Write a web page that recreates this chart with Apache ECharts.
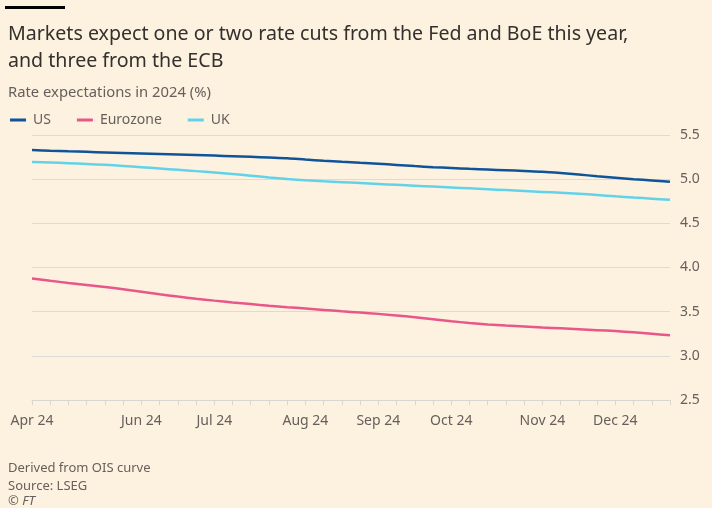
<!DOCTYPE html>
<html>
<head>
<meta charset="utf-8">
<script src="https://cdn.jsdelivr.net/npm/echarts@6/dist/echarts.min.js"></script>
<style>
  html, body { margin: 0; padding: 0; background: #fdf2df; }
  #main { width: 712px; height: 508px; }
</style>
</head>
<body>
<div id="main"></div>
<script>
// categories (weekly points), month label shown where month starts
var categories = [
  'Apr 24',
  'May 24', 'May 24', 'May 24', 'May 24', 'May 24',
  'Jun 24', 'Jun 24', 'Jun 24', 'Jun 24',
  'Jul 24', 'Jul 24', 'Jul 24', 'Jul 24', 'Jul 24',
  'Aug 24', 'Aug 24', 'Aug 24', 'Aug 24',
  'Sep 24', 'Sep 24', 'Sep 24', 'Sep 24',
  'Oct 24', 'Oct 24', 'Oct 24', 'Oct 24', 'Oct 24',
  'Nov 24', 'Nov 24', 'Nov 24', 'Nov 24',
  'Dec 24', 'Dec 24', 'Dec 24', 'Dec 24'
];
var labelIndex = [0, 6, 10, 15, 19, 23, 28, 32];

var us = [5.33, 5.322, 5.315, 5.309, 5.303, 5.297, 5.291, 5.285, 5.279, 5.273,
  5.267, 5.26, 5.253, 5.245, 5.237, 5.222, 5.208, 5.196, 5.185, 5.174,
  5.161, 5.148, 5.136, 5.126, 5.117, 5.109, 5.101, 5.093, 5.085, 5.07,
  5.052, 5.034, 5.017, 5.0, 4.985, 4.97];
var eurozone = [3.876, 3.85, 3.825, 3.802, 3.779, 3.754, 3.726, 3.697, 3.671, 3.647,
  3.625, 3.605, 3.586, 3.567, 3.551, 3.536, 3.52, 3.504, 3.49, 3.475,
  3.457, 3.438, 3.415, 3.392, 3.372, 3.356, 3.343, 3.332, 3.321, 3.311,
  3.301, 3.291, 3.28, 3.266, 3.25, 3.232];
var uk = [5.195, 5.189, 5.181, 5.172, 5.162, 5.15, 5.136, 5.121, 5.106, 5.091,
  5.075, 5.058, 5.04, 5.02, 5.002, 4.987, 4.976, 4.966, 4.956, 4.946,
  4.936, 4.926, 4.916, 4.906, 4.896, 4.886, 4.876, 4.866, 4.856, 4.846,
  4.835, 4.821, 4.806, 4.792, 4.779, 4.766];

var font = 'Noto Sans';
var chart = echarts.init(document.getElementById('main'));

var option = {
  backgroundColor: '#fdf2df',
  animation: false,
  textStyle: { fontFamily: font },
  title: [
    {
      text: 'Markets expect one or two rate cuts from the Fed and BoE this year,\nand three from the ECB',
      left: 3, top: 16,
      textStyle: { fontFamily: font, fontSize: 19.6, fontWeight: 'normal', color: '#33302e', lineHeight: 27 }
    },
    {
      text: 'Rate expectations in 2024 (%)',
      left: 3, top: 80,
      textStyle: { fontFamily: font, fontSize: 14.8, fontWeight: 'normal', color: '#66605c' }
    },
    {
      text: 'Derived from OIS curve\nSource: LSEG',
      left: 3, top: 454,
      textStyle: { fontFamily: font, fontSize: 13, fontWeight: 'normal', color: '#66605c', lineHeight: 18 }
    },
    {
      text: '© FT',
      left: 3, top: 490,
      textStyle: { fontFamily: font, fontSize: 13, fontWeight: 'normal', fontStyle: 'italic', color: '#66605c' }
    }
  ],
  graphic: [
    { type: 'rect', left: 5, top: 6, shape: { width: 60, height: 3 }, style: { fill: '#000' } }
  ],
  legend: {
    left: 5, top: 108,
    icon: 'rect', itemWidth: 16, itemHeight: 3, itemGap: 26,
    textStyle: { fontFamily: font, fontSize: 14, color: '#66605c', padding: [0, 0, 0, 2] },
    data: ['US', 'Eurozone', 'UK']
  },
  grid: { left: 32, right: 42, top: 135, bottom: 108 },
  xAxis: {
    type: 'category',
    data: categories,
    boundaryGap: false,
    axisLine: { lineStyle: { color: '#d8d6d2' } },
    axisTick: { show: true, interval: 0, length: 5, lineStyle: { color: '#d8d6d2' } },
    axisLabel: {
      interval: function (i) { return labelIndex.indexOf(i) >= 0; },
      margin: 14, fontSize: 14, color: '#66605c', fontFamily: font
    }
  },
  yAxis: {
    type: 'value',
    position: 'right',
    min: 2.5, max: 5.5, interval: 0.5,
    axisLine: { show: false },
    axisTick: { show: false },
    splitLine: { lineStyle: { color: '#dddbd6' } },
    axisLabel: {
      margin: 10, fontSize: 14, color: '#66605c', fontFamily: font,
      formatter: function (v) { return v.toFixed(1); }
    }
  },
  series: [
    { name: 'US', type: 'line', data: us, showSymbol: false, smooth: 0.3, color: '#0f5499', lineStyle: { width: 2.5 } },
    { name: 'Eurozone', type: 'line', data: eurozone, showSymbol: false, smooth: 0.3, color: '#e9568a', lineStyle: { width: 2.5 } },
    { name: 'UK', type: 'line', data: uk, showSymbol: false, smooth: 0.3, color: '#62d2ea', lineStyle: { width: 2.5 } }
  ]
};

chart.setOption(option);
</script>
</body>
</html>
